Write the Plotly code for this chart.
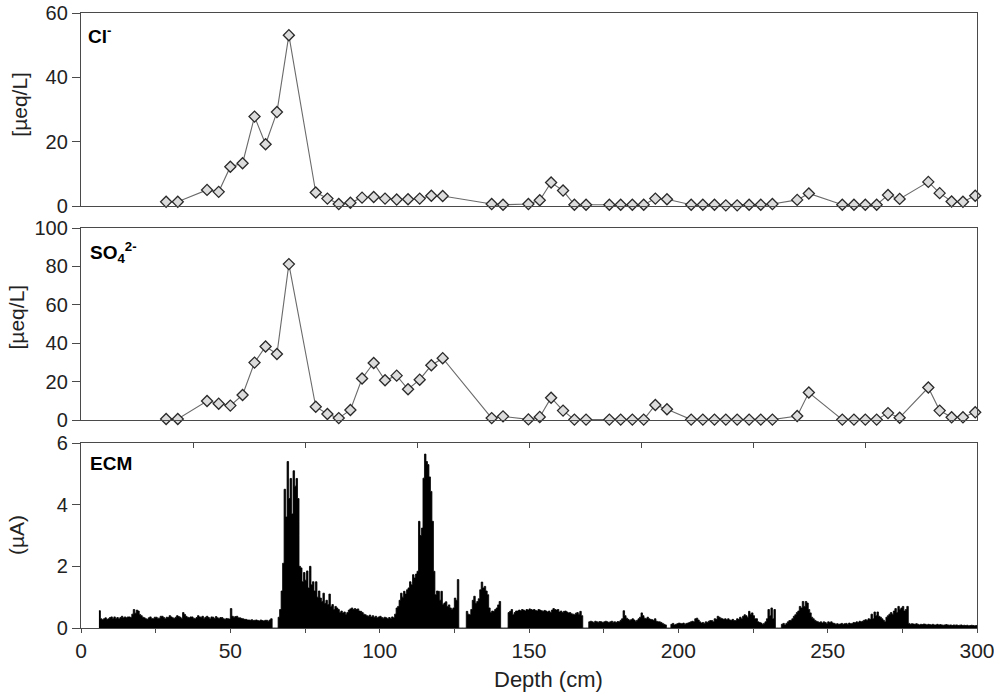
import plotly.graph_objects as go

# ---------------- data ----------------
sample_depth = [28.5, 32.4, 42.2, 46.1, 50.0, 54.1, 58.1, 61.8, 65.6, 69.6,
                78.6, 82.5, 86.3, 90.2, 94.1, 98.0, 101.8, 105.7, 109.5, 113.4, 117.3, 121.1,
                137.5, 141.3,
                149.8, 153.6, 157.4, 161.4, 165.2, 169.1,
                176.9, 180.7, 184.6, 188.4, 192.3, 196.2,
                204.3, 208.2, 212.1, 215.9, 219.7, 223.7, 227.6, 231.5,
                239.8, 243.7,
                254.9, 258.8, 262.6, 266.4, 270.2, 274.1,
                283.7, 287.5, 291.5, 295.3, 299.4]

cl_values = [1.3, 1.3, 5.0, 4.4, 12.2, 13.3, 27.8, 19.2, 29.2, 53.1,
             4.2, 2.3, 0.6, 1.0, 2.6, 2.8, 2.3, 2.0, 2.1, 2.3, 3.2, 3.1,
             0.6, 0.4,
             0.6, 1.8, 7.3, 4.8, 0.4, 0.4,
             0.4, 0.4, 0.4, 0.4, 2.3, 2.1,
             0.4, 0.4, 0.4, 0.2, 0.2, 0.4, 0.4, 0.6,
             1.9, 3.9,
             0.4, 0.4, 0.4, 0.4, 3.4, 2.2,
             7.5, 4.0, 1.4, 1.3, 3.2]

so4_values = [0.5, 0.5, 9.9, 8.5, 7.5, 13.0, 29.9, 38.3, 34.4, 81.2,
              6.9, 3.1, 1.0, 5.2, 21.6, 29.7, 20.7, 23.1, 16.0, 21.0, 28.5, 32.2,
              1.0, 1.9,
              0.3, 1.6, 11.6, 4.9, 0.2, 0.2,
              0.2, 0.2, 0.2, 0.2, 7.8, 5.6,
              0.2, 0.2, 0.2, 0.2, 0.2, 0.2, 0.2, 0.2,
              2.1, 14.3,
              0.2, 0.2, 0.2, 0.2, 3.6, 1.2,
              16.9, 4.9, 1.4, 1.4, 4.0]

# ECM current (uA), sampled every 0.5 cm starting at 6.0 cm
ecm_start = 6.0
ecm_step = 0.5
ecm_values = [
    0.56, 0.30, 0.27, 0.30, 0.33, 0.28, 0.30, 0.34, 0.36, 0.31,   # 6
    0.36, 0.31, 0.34, 0.30, 0.34, 0.38, 0.33, 0.36, 0.33, 0.36,   # 11
    0.36, 0.34, 0.45, 0.60, 0.48, 0.58, 0.55, 0.44, 0.40, 0.35,   # 16
    0.33, 0.30, 0.28, 0.33, 0.36, 0.31, 0.30, 0.35, 0.35, 0.32,   # 21
    0.32, 0.38, 0.38, 0.34, 0.30, 0.35, 0.34, 0.40, 0.36, 0.33,   # 26
    0.31, 0.35, 0.40, 0.37, 0.35, 0.31, 0.50, 0.44, 0.38, 0.35,   # 31
    0.33, 0.36, 0.36, 0.32, 0.30, 0.34, 0.40, 0.36, 0.35, 0.38,   # 36
    0.32, 0.35, 0.38, 0.34, 0.30, 0.36, 0.35, 0.31, 0.37, 0.33,   # 41
    0.31, 0.34, 0.34, 0.30, 0.28, 0.31, 0.30, 0.29, 0.63, 0.38,   # 46
    0.35, 0.37, 0.38, 0.33, 0.33, 0.31, 0.30, 0.28, 0.28, 0.26,   # 51
    0.26, 0.25, 0.27, 0.24, 0.25, 0.26, 0.24, 0.23, 0.26, 0.24,   # 56
    0.23, 0.25, 0.25, 0.22, 0.26, 0.30, 0.0, 0.0, 0.0, 0.0,       # 61
    0.35, 0.6, 1.2, 2.1, 4.5, 3.6, 5.4, 4.2, 4.85, 3.7,           # 66
    5.1, 4.6, 4.85, 4.2, 2.0, 1.95, 1.5, 1.8, 1.55, 1.85,         # 71
    1.3, 2.0, 1.4, 1.5, 1.2, 1.5, 1.0, 1.2, 0.97, 0.86,           # 76
    1.13, 0.8, 0.9, 0.76, 1.1, 0.7, 0.76, 0.6, 0.7, 0.65,         # 81
    0.6, 0.5, 0.55, 0.49, 0.52, 0.45, 0.5, 0.58, 0.62, 0.65,      # 86
    0.6, 0.63, 0.6, 0.62, 0.55, 0.54, 0.5, 0.45, 0.43, 0.40,      # 91
    0.38, 0.42, 0.36, 0.40, 0.35, 0.38, 0.33, 0.36, 0.38, 0.34,   # 96
    0.32, 0.35, 0.33, 0.30, 0.34, 0.31, 0.36, 0.33, 0.45, 0.65,   # 101
    0.7, 0.9, 1.13, 1.0, 1.19, 1.1, 1.24, 1.3, 1.5, 1.4,          # 106
    1.73, 1.62, 1.75, 1.84, 3.46, 3.0, 3.24, 4.86, 5.64, 5.4,     # 111
    5.3, 4.9, 4.43, 3.46, 1.84, 1.08, 1.2, 1.19, 0.9, 1.19,       # 116
    0.76, 0.81, 0.85, 0.7, 0.75, 0.65, 0.6, 0.65, 0.97, 0.9,      # 121
    1.57, 0.0, 0.0, 0.0, 0.0, 0.0, 0.54, 0.45, 0.43, 0.6,         # 126
    0.9, 1.03, 0.8, 0.86, 0.95, 1.24, 1.49, 1.3, 1.35, 1.2,       # 131
    1.08, 0.65, 0.5, 0.55, 0.54, 0.6, 0.65, 0.75, 0.86, 0.0,      # 136
    0.0, 0.0, 0.0, 0.0, 0.5, 0.54, 0.6, 0.43, 0.5, 0.55,          # 141
    0.55, 0.58, 0.56, 0.6, 0.58, 0.55, 0.6, 0.58, 0.62, 0.6,      # 146
    0.58, 0.6, 0.57, 0.55, 0.6, 0.58, 0.56, 0.54, 0.57, 0.55,     # 151
    0.52, 0.55, 0.5, 0.58, 0.63, 0.6, 0.58, 0.6, 0.52, 0.55,      # 156
    0.5, 0.54, 0.55, 0.52, 0.49, 0.5, 0.46, 0.45, 0.43, 0.48,     # 161
    0.5, 0.45, 0.54, 0.4, 0.0, 0.0, 0.0, 0.0, 0.2, 0.22,          # 166
    0.2, 0.18, 0.22, 0.2, 0.19, 0.21, 0.2, 0.18, 0.2, 0.22,       # 171
    0.2, 0.18, 0.2, 0.22, 0.19, 0.2, 0.18, 0.21, 0.2, 0.25,       # 176
    0.3, 0.56, 0.4, 0.32, 0.28, 0.25, 0.27, 0.3, 0.26, 0.22,      # 181
    0.25, 0.3, 0.35, 0.49, 0.4, 0.32, 0.3, 0.35, 0.3, 0.28,       # 186
    0.27, 0.25, 0.3, 0.22, 0.2, 0.2, 0.18, 0.15, 0.12, 0.1,       # 191
    0.0, 0.0, 0.0, 0.12, 0.15, 0.1, 0.12, 0.14, 0.16, 0.15,       # 196
    0.14, 0.16, 0.12, 0.15, 0.16, 0.18, 0.2, 0.22, 0.2, 0.3,      # 201
    0.32, 0.26, 0.2, 0.16, 0.18, 0.15, 0.2, 0.18, 0.22, 0.24,     # 206
    0.24, 0.2, 0.3, 0.28, 0.38, 0.35, 0.32, 0.3, 0.28, 0.3,       # 211
    0.27, 0.3, 0.26, 0.25, 0.28, 0.24, 0.24, 0.3, 0.28, 0.35,     # 216
    0.3, 0.38, 0.43, 0.4, 0.35, 0.54, 0.45, 0.49, 0.4, 0.3,       # 221
    0.3, 0.2, 0.18, 0.16, 0.12, 0.15, 0.2, 0.3, 0.6, 0.4,         # 226
    0.65, 0.3, 0.6, 0.0, 0.0, 0.0, 0.0, 0.12, 0.15, 0.1,          # 231
    0.15, 0.2, 0.24, 0.25, 0.3, 0.38, 0.43, 0.5, 0.55, 0.7,       # 236
    0.65, 0.86, 0.7, 0.86, 0.81, 0.6, 0.49, 0.35, 0.3, 0.25,      # 241
    0.22, 0.2, 0.18, 0.2, 0.16, 0.2, 0.18, 0.15, 0.2, 0.18,       # 246
    0.2, 0.16, 0.15, 0.12, 0.14, 0.12, 0.13, 0.15, 0.12, 0.14,    # 251
    0.15, 0.12, 0.16, 0.14, 0.15, 0.18, 0.17, 0.2, 0.18, 0.22,    # 256
    0.2, 0.22, 0.25, 0.27, 0.25, 0.3, 0.28, 0.45, 0.3, 0.52,      # 261
    0.4, 0.52, 0.38, 0.35, 0.3, 0.25, 0.2, 0.35, 0.4, 0.45,       # 266
    0.5, 0.45, 0.55, 0.63, 0.5, 0.7, 0.6, 0.65, 0.7, 0.55,        # 271
    0.6, 0.7, 0.15, 0.12, 0.14, 0.13, 0.12, 0.14, 0.12, 0.1,      # 276
    0.12, 0.11, 0.13, 0.12, 0.1, 0.12, 0.11, 0.1, 0.12, 0.1,      # 281
    0.1, 0.12, 0.1, 0.11, 0.1, 0.09, 0.1, 0.11, 0.1, 0.09,        # 286
    0.1, 0.08, 0.1, 0.09, 0.1, 0.08, 0.09, 0.1, 0.08, 0.09,       # 291
    0.08, 0.09, 0.07, 0.08, 0.09, 0.08, 0.07, 0.08, 0.08,         # 296
]
ecm_depth = [ecm_start + ecm_step * i for i in range(len(ecm_values))]

x_major_dtick = 50
x_minor_dtick = 25
top_tickvals = [37.5, 75, 112.5, 150, 187.5, 225, 262.5]

cl_ticks = [0, 20, 40, 60]
so4_ticks = [0, 20, 40, 60, 80, 100]
ecm_ticks = [0, 2, 4, 6]

# ---------------- styling ----------------
FONT = "Liberation Sans, Arial, Helvetica, sans-serif"
AX = "#4a4a4a"
LINE_W = 1.3

marker_style = dict(symbol="diamond", size=8.5, color="#dcdcdc",
                    line=dict(color="#2a2a2a", width=1.3))

fig = go.Figure()
fig.add_trace(go.Scatter(x=sample_depth, y=cl_values, mode="lines+markers",
                         line=dict(color="#6a6a6a", width=1.1),
                         marker=marker_style, cliponaxis=False,
                         xaxis="x", yaxis="y", showlegend=False))
fig.add_trace(go.Scatter(x=sample_depth, y=so4_values, mode="lines+markers",
                         line=dict(color="#6a6a6a", width=1.1),
                         marker=marker_style, cliponaxis=False,
                         xaxis="x2", yaxis="y2", showlegend=False))
fig.add_trace(go.Scatter(x=ecm_depth, y=ecm_values, mode="lines",
                         line=dict(color="black", width=0.8, shape="hv"),
                         fill="tozeroy", fillcolor="black",
                         xaxis="x3", yaxis="y3", showlegend=False))
# helper (invisible) trace so the top tick axis of the ECM panel is drawn
fig.add_trace(go.Scatter(x=[0, 300], y=[0, 0], mode="lines",
                         line=dict(width=0, color="rgba(0,0,0,0)"),
                         hoverinfo="skip", xaxis="x4", yaxis="y3", showlegend=False))

# plot area: x 81..977, y 13..628
d1 = [(628 - 206) / 615, 1.0]
d2 = [(628 - 420) / 615, (628 - 228) / 615]
d3 = [0.0, (628 - 443) / 615]

common_x = dict(range=[0, 300], showline=True, linecolor=AX, linewidth=LINE_W,
                mirror=True, showgrid=False, zeroline=False, automargin=False)
common_y = dict(showline=True, linecolor=AX, linewidth=LINE_W, mirror=True,
                showgrid=False, zeroline=False, ticks="outside", ticklen=8,
                tickwidth=1.2, tickcolor=AX, automargin=False,
                ticklabeloverflow="allow",
                tickfont=dict(family=FONT, size=20, color="#222"))

fig.update_layout(
    template="none",
    width=994, height=695,
    margin=dict(l=81, r=17, t=13, b=67, autoexpand=False),
    paper_bgcolor="white", plot_bgcolor="white",
    font=dict(family=FONT, color="#222"),
    showlegend=False,
    xaxis=dict(**common_x, domain=[0, 1], anchor="y", showticklabels=False, ticks=""),
    xaxis2=dict(**common_x, domain=[0, 1], anchor="y2", showticklabels=False, ticks=""),
    xaxis3=dict(**common_x, domain=[0, 1], anchor="y3", ticks="outside", ticklen=4,
                tickwidth=1.2, tickcolor=AX, tick0=0, dtick=x_major_dtick,
                ticklabeloverflow="allow",
                minor=dict(tick0=0, dtick=x_minor_dtick, ticks="outside", ticklen=4,
                           tickwidth=1.2, tickcolor=AX, showgrid=False),
                tickfont=dict(family=FONT, size=21, color="#222")),
    xaxis4=dict(range=[0, 300], overlaying="x3", side="top", anchor="y3",
                showline=False, showgrid=False, zeroline=False, automargin=False,
                ticks="inside", ticklen=5, tickwidth=1.2, tickcolor=AX,
                tickvals=top_tickvals, showticklabels=False),
    yaxis=dict(**common_y, domain=d1, anchor="x", range=[0, 60], tickvals=cl_ticks),
    yaxis2=dict(**common_y, domain=d2, anchor="x2", range=[0, 100], tickvals=so4_ticks),
    yaxis3=dict(**common_y, domain=d3, anchor="x3", range=[0, 6], tickvals=ecm_ticks),
)

label_font = dict(family=FONT, size=19, color="black")
ann = [
    dict(text="<b>Cl<sup>-</sup></b>", xref="x domain", yref="y domain",
         x=0.006, y=0.885, xanchor="left", yanchor="middle", showarrow=False, font=label_font),
    dict(text="<b>SO<sub>4</sub><sup>2-</sup></b>", xref="x2 domain", yref="y2 domain",
         x=0.008, y=0.875, xanchor="left", yanchor="middle", showarrow=False, font=label_font),
    dict(text="<b>ECM</b>", xref="x3 domain", yref="y3 domain",
         x=0.008, y=0.889, xanchor="left", yanchor="middle", showarrow=False, font=label_font),
    dict(text="[µeq/L]", xref="paper", yref="paper", x=(19.7 - 81) / 896, y=(628 - 104) / 615,
         textangle=-90, xanchor="center", yanchor="middle", showarrow=False,
         font=dict(family=FONT, size=21, color="#222")),
    dict(text="[µeq/L]", xref="paper", yref="paper", x=(16 - 81) / 896, y=(628 - 317.5) / 615,
         textangle=-90, xanchor="center", yanchor="middle", showarrow=False,
         font=dict(family=FONT, size=21, color="#222")),
    dict(text="(µA)", xref="paper", yref="paper", x=(16 - 81) / 896, y=(628 - 535) / 615,
         textangle=-90, xanchor="center", yanchor="middle", showarrow=False,
         font=dict(family=FONT, size=21, color="#222")),
    dict(text="Depth (cm)", xref="paper", yref="paper", x=(548 - 81) / 896, y=(628 - 679) / 615,
         xanchor="center", yanchor="middle", showarrow=False,
         font=dict(family=FONT, size=22, color="#222")),
]
fig.update_layout(annotations=ann)

# remove the default 8px page margin so the figure sits at the window's top-left corner
fig.write_html("out.html",
               config={"displayModeBar": False},
               post_script="document.body.style.margin='0px';document.body.style.padding='0px';")
